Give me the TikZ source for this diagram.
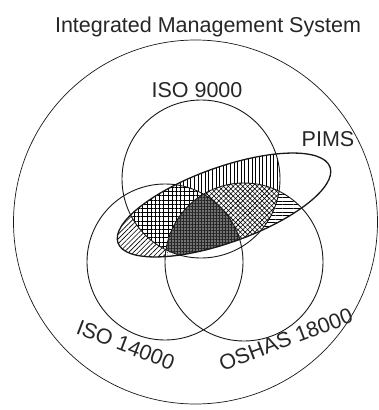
\documentclass[tikz,border=0pt]{standalone}
\usepackage{fontspec}
\setmainfont{Liberation Sans}
\usetikzlibrary{patterns.meta}
\newcommand\myclipE{\clip[rotate around={19.7:(224,-205)}] (224,-205) ellipse [x radius=112.6, y radius=37.7];}
\newcommand\myclipA{\clip (201,-179) circle[radius=79];}
\newcommand\myclipB{\clip (165,-262) circle[radius=78];}
\newcommand\myclipC{\clip (244,-262) circle[radius=79];}
\newcommand\myfullrect{(0,0) rectangle (378,-410)}
\begin{document}
\begin{tikzpicture}[x=1pt,y=1pt,
  lbl/.style={font=\fontsize{21.5}{24}\selectfont, text=black!85, inner sep=0pt, anchor=base},
  ring/.style={draw=black!90, line width=0.9pt},
  outerring/.style={draw=black!90, line width=0.7pt},
  pims/.style={draw=black!90, line width=1.3pt}]
\useasboundingbox \myfullrect;
% hatched regions
\begin{scope}\myclipE\myclipA
  \path[pattern={Lines[angle=90,distance=3.6pt,line width=0.65pt]}] \myfullrect;
\end{scope}
\begin{scope}\myclipE\myclipB
  \fill[white] \myfullrect;
  \path[pattern={Lines[angle=45,distance=3.4pt,line width=0.65pt]}] \myfullrect;
\end{scope}
\begin{scope}\myclipE\myclipC
  \fill[white] \myfullrect;
  \path[pattern={Lines[angle=0,distance=3.6pt,line width=0.65pt]}] \myfullrect;
\end{scope}
\begin{scope}\myclipE\myclipA\myclipB
  \fill[white] \myfullrect;
  \path[pattern={Hatch[angle=0,distance=4.2pt,line width=0.75pt]}] \myfullrect;
\end{scope}
\begin{scope}\myclipE\myclipA\myclipC
  \fill[white] \myfullrect;
  \path[pattern={Hatch[angle=45,distance=3.4pt,line width=0.6pt]}] \myfullrect;
\end{scope}
\begin{scope}\myclipE\myclipB\myclipC
  \fill[white] \myfullrect;
  \path[pattern={Dots[distance=2.5pt,radius=0.4pt]}] \myfullrect;
\end{scope}
\begin{scope}\myclipE\myclipA\myclipB\myclipC
  \fill[black!55] \myfullrect;
  \path[pattern={Hatch[angle=0,distance=3pt,line width=0.45pt]}, pattern color=black!85] \myfullrect;
\end{scope}
% outlines
\draw[outerring] (195.5,-222) circle[radius=182];
\draw[ring] (201,-179) circle[radius=79];
\draw[ring] (165,-262) circle[radius=78];
\draw[ring] (244,-262) circle[radius=79];
\draw[pims, rotate around={19.7:(224,-205)}] (224,-205) ellipse [x radius=112.6, y radius=37.7];
% labels
\node[lbl] (title) at (208,-32) {Integrated Management System};
\node[lbl] (iso9000) at (197,-97) {ISO 9000};
\node[lbl] (pims) at (328,-146) {PIMS};
\node[lbl, rotate=-21] (iso14000) at (123,-352) {ISO 14000};
\node[lbl, rotate=20.7] (oshas) at (288.5,-346.5) {OSHAS 18000};
\end{tikzpicture}
\end{document}
